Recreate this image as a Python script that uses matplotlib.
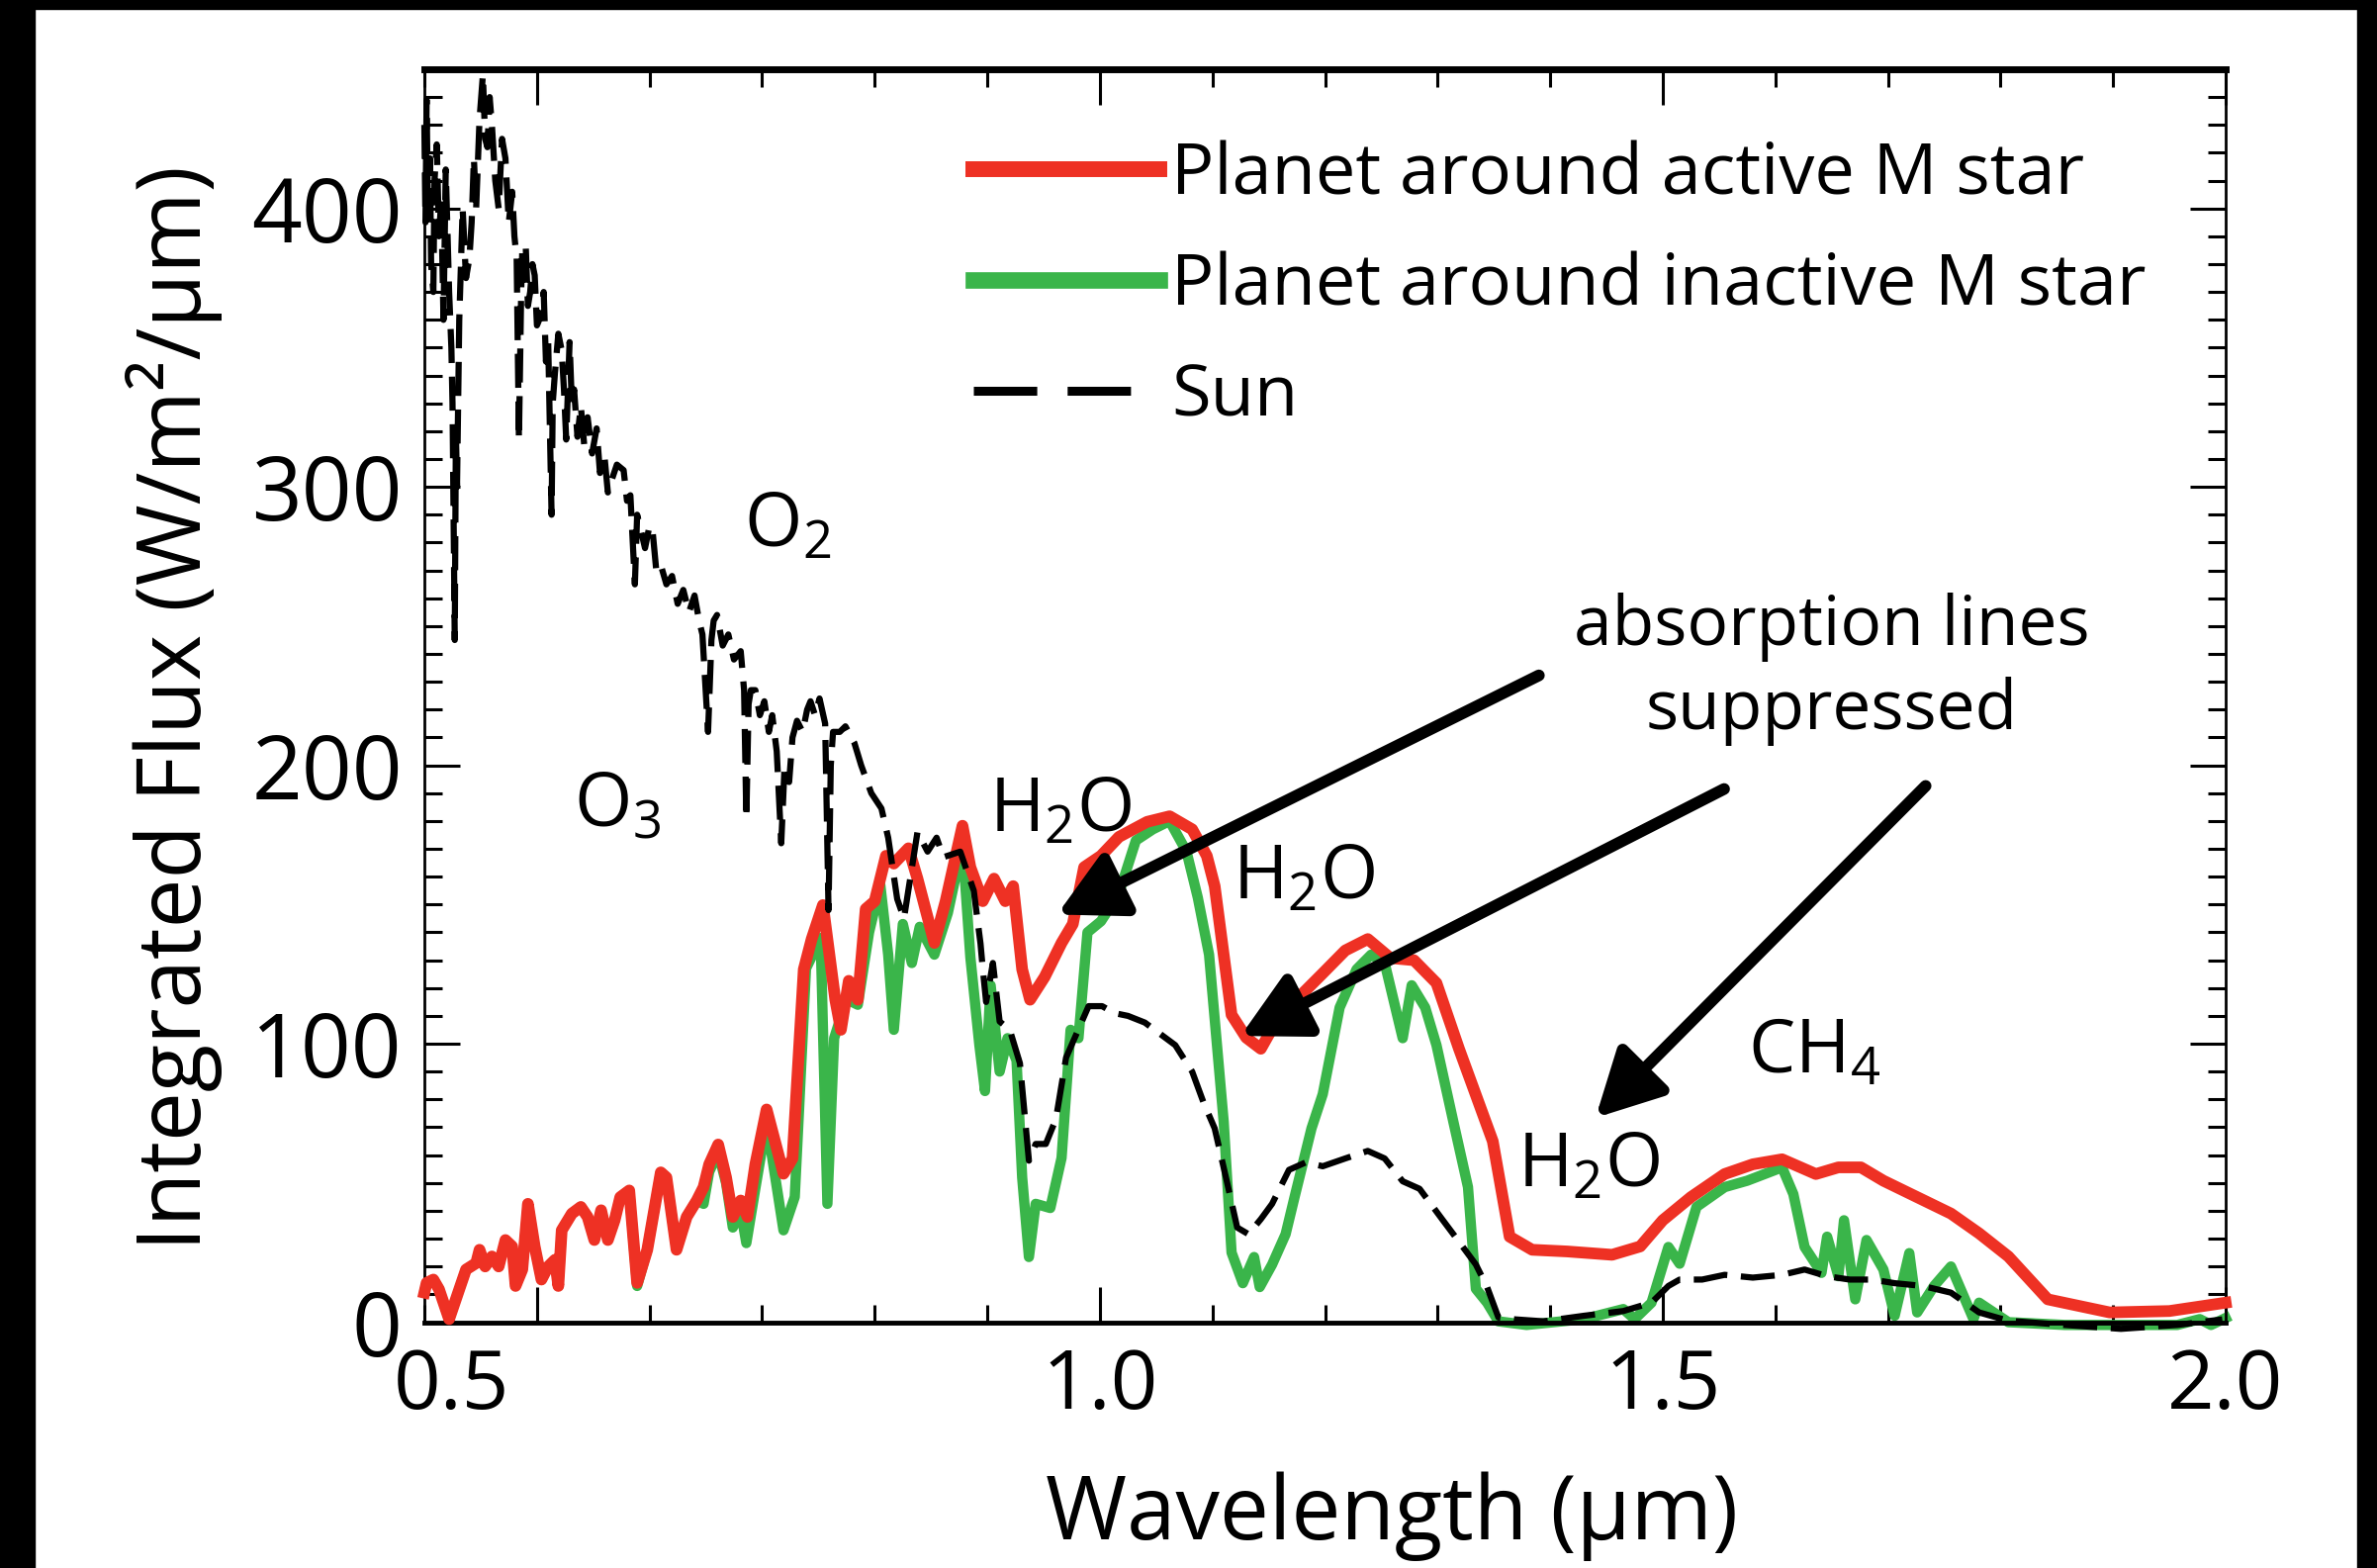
import matplotlib
matplotlib.use("Agg")
import matplotlib.pyplot as plt
from matplotlib.lines import Line2D
from matplotlib.patches import Rectangle
from matplotlib.ticker import MultipleLocator, FixedLocator, FormatStrFormatter
from matplotlib.transforms import ScaledTranslation

plt.rcParams['font.family'] = ['Open Sans', 'DejaVu Sans']
plt.rcParams['mathtext.fontset'] = 'custom'
plt.rcParams['mathtext.rm'] = 'Open Sans'
plt.rcParams['mathtext.it'] = 'Open Sans:italic'
plt.rcParams['mathtext.bf'] = 'Open Sans:bold'

# ---------------------------------------------------------------
# data (wavelength in um, flux in W/m2/um)
# ---------------------------------------------------------------
wl_active = [0.400, 0.402, 0.408, 0.413, 0.422, 0.431, 0.437, 0.446, 0.449, 0.454,
             0.460, 0.466, 0.472, 0.478, 0.481, 0.487, 0.492, 0.498, 0.504, 0.510,
             0.516, 0.519, 0.522, 0.531, 0.539, 0.545, 0.551, 0.557, 0.563, 0.569,
             0.574, 0.582, 0.589, 0.598, 0.610, 0.615, 0.624, 0.633, 0.642, 0.648,
             0.653, 0.661, 0.668, 0.674, 0.681, 0.687, 0.694, 0.704, 0.719, 0.727,
             0.737, 0.744, 0.754, 0.765, 0.770, 0.777, 0.785, 0.792, 0.800, 0.810,
             0.817, 0.830, 0.838, 0.853, 0.863, 0.878, 0.885, 0.896, 0.906, 0.916,
             0.923, 0.931, 0.938, 0.951, 0.966, 0.976, 0.986, 1.001, 1.017, 1.042,
             1.062, 1.082, 1.095, 1.102, 1.117, 1.130, 1.143, 1.158, 1.178, 1.198,
             1.218, 1.238, 1.258, 1.279, 1.299, 1.319, 1.334, 1.349, 1.364, 1.384,
             1.415, 1.455, 1.480, 1.500, 1.525, 1.555, 1.580, 1.606, 1.636, 1.656,
             1.676, 1.696, 1.726, 1.756, 1.781, 1.807, 1.842, 1.897, 1.950, 2.000]
flux_active = [10.6, 14.1, 15.3, 11.8, 1.1, 11.8, 18.9, 21.2, 26.0, 20.0,
               23.6, 20.0, 29.5, 27.2, 13.0, 18.9, 42.5, 27.2, 15.3, 20.0,
               22.4, 13.0, 33.0, 39.0, 41.4, 37.8, 29.5, 40.2, 29.5, 36.6,
               44.9, 47.3, 14.1, 26.0, 53.8, 52.0, 26.0, 37.8, 43.7, 48.5,
               56.7, 63.8, 52.0, 37.8, 43.7, 37.8, 56.7, 76.4, 53.3, 58.8,
               126.7, 137.6, 149.8, 115.8, 105.0, 122.6, 115.8, 148.4, 151.2, 167.5,
               164.7, 170.2, 159.3, 136.2, 151.2, 178.3, 163.4, 151.2, 159.3, 151.2,
               156.6, 126.7, 115.8, 124.0, 136.2, 143.0, 163.4, 167.5, 174.3, 179.7,
               181.7, 177.0, 167.5, 156.6, 110.4, 102.2, 98.2, 109.0, 117.2, 125.3,
               133.5, 137.6, 130.8, 130.0, 121.8, 98.2, 81.6, 65.0, 30.7, 26.0,
               25.4, 24.2, 27.2, 36.6, 44.9, 53.2, 56.7, 58.5, 53.2, 55.6,
               55.6, 50.8, 44.9, 39.0, 31.9, 23.6, 8.2, 3.5, 4.0, 7.0]

wl_inactive = [0.400, 0.402, 0.408, 0.413, 0.422, 0.431, 0.437, 0.446, 0.449, 0.454,
               0.460, 0.466, 0.472, 0.478, 0.481, 0.487, 0.492, 0.498, 0.504, 0.510,
               0.516, 0.519, 0.522, 0.531, 0.539, 0.545, 0.551, 0.557, 0.563, 0.569,
               0.574, 0.582, 0.589, 0.598, 0.610, 0.615, 0.624, 0.633, 0.642, 0.648,
               0.653, 0.661, 0.668, 0.674, 0.681, 0.686, 0.694, 0.704, 0.719, 0.729,
               0.739, 0.752, 0.758, 0.764, 0.775, 0.785, 0.795, 0.805, 0.812, 0.817,
               0.825, 0.833, 0.840, 0.853, 0.865, 0.878, 0.885, 0.893, 0.898, 0.903,
               0.911, 0.918, 0.926, 0.931, 0.937, 0.943, 0.956, 0.966, 0.974, 0.981,
               0.989, 1.001, 1.017, 1.032, 1.047, 1.062, 1.077, 1.087, 1.097, 1.110,
               1.117, 1.127, 1.137, 1.142, 1.153, 1.165, 1.173, 1.188, 1.198, 1.213,
               1.228, 1.241, 1.253, 1.269, 1.277, 1.289, 1.299, 1.314, 1.327, 1.334,
               1.344, 1.354, 1.379, 1.430, 1.465, 1.475, 1.490, 1.505, 1.515, 1.530,
               1.555, 1.575, 1.606, 1.616, 1.626, 1.641, 1.646, 1.656, 1.661, 1.671,
               1.681, 1.696, 1.706, 1.719, 1.726, 1.741, 1.756, 1.776, 1.781, 1.807,
               1.857, 1.957, 1.977, 1.987, 2.000]
flux_inactive = [10.6, 14.1, 15.3, 11.8, 1.1, 11.8, 18.9, 21.2, 26.0, 20.0,
                 23.6, 20.0, 29.5, 27.2, 13.0, 18.9, 42.5, 27.2, 15.3, 20.0,
                 22.4, 13.0, 33.0, 39.0, 41.4, 37.8, 29.5, 40.2, 29.5, 36.6,
                 44.9, 47.3, 13.0, 26.0, 53.8, 52.0, 26.0, 37.8, 43.7, 42.5,
                 54.0, 61.0, 50.0, 34.0, 40.0, 28.4, 48.0, 72.0, 33.0, 45.0,
                 127.0, 138.0, 42.5, 102.0, 116.0, 114.0, 140.0, 157.0, 132.0, 105.0,
                 143.0, 129.0, 142.0, 132.0, 147.0, 171.5, 131.0, 99.5, 83.0, 121.0,
                 90.0, 102.0, 94.0, 52.0, 23.4, 42.5, 41.0, 59.0, 105.0, 102.0,
                 140.0, 144.0, 154.0, 173.0, 177.0, 180.0, 169.0, 152.5, 132.0, 72.0,
                 25.0, 14.0, 23.4, 12.6, 20.7, 31.6, 45.0, 69.6, 81.9, 113.0,
                 126.7, 132.0, 129.0, 102.0, 121.0, 113.0, 99.5, 72.0, 48.5, 12.0,
                 7.0, 0.3, -1.0, 1.1, 4.7, 1.1, 7.0, 27.0, 21.0, 41.4,
                 48.5, 50.8, 55.6, 46.0, 27.0, 17.7, 30.7, 16.5, 36.6, 8.2,
                 29.5, 18.9, 2.3, 24.8, 3.5, 13.0, 20.0, 1.1, 7.0, 0.0,
                 -1.0, -1.0, 1.1, -1.0, 1.5]

wl_sun = [0.400, 0.401, 0.402, 0.403, 0.405, 0.406, 0.408, 0.409, 0.411, 0.413,
          0.415, 0.417, 0.419, 0.421, 0.422, 0.424, 0.425, 0.427, 0.428, 0.429,
          0.431, 0.434, 0.437, 0.440, 0.442, 0.444, 0.446, 0.449, 0.452, 0.454,
          0.456, 0.458, 0.460, 0.463, 0.466, 0.469, 0.472, 0.475, 0.478, 0.480,
          0.482, 0.484, 0.486, 0.487, 0.490, 0.492, 0.494, 0.496, 0.498, 0.500,
          0.503, 0.506, 0.508, 0.510, 0.513, 0.514, 0.516, 0.519, 0.522, 0.524,
          0.526, 0.529, 0.531, 0.533, 0.536, 0.539, 0.542, 0.545, 0.549, 0.553,
          0.556, 0.560, 0.563, 0.566, 0.571, 0.577, 0.580, 0.583, 0.587, 0.589,
          0.592, 0.596, 0.600, 0.603, 0.606, 0.610, 0.615, 0.620, 0.625, 0.630,
          0.635, 0.640, 0.644, 0.647, 0.652, 0.655, 0.657, 0.660, 0.665, 0.670,
          0.675, 0.681, 0.684, 0.686, 0.688, 0.690, 0.694, 0.698, 0.702, 0.706,
          0.709, 0.713, 0.717, 0.720, 0.724, 0.727, 0.731, 0.736, 0.740, 0.743,
          0.747, 0.751, 0.756, 0.759, 0.761, 0.763, 0.769, 0.774, 0.782, 0.788,
          0.797, 0.806, 0.812, 0.820, 0.826, 0.838, 0.847, 0.855, 0.861, 0.876,
          0.888, 0.894, 0.896, 0.899, 0.905, 0.911, 0.920, 0.929, 0.937, 0.943,
          0.952, 0.961, 0.970, 0.990, 1.002, 1.013, 1.025, 1.040, 1.067, 1.082,
          1.092, 1.102, 1.112, 1.122, 1.132, 1.143, 1.153, 1.168, 1.183, 1.198,
          1.218, 1.238, 1.253, 1.269, 1.284, 1.304, 1.319, 1.334, 1.344, 1.354,
          1.369, 1.394, 1.430, 1.465, 1.490, 1.505, 1.515, 1.535, 1.555, 1.580,
          1.606, 1.626, 1.646, 1.666, 1.686, 1.706, 1.731, 1.756, 1.781, 1.807,
          1.857, 1.907, 1.957, 1.997]
flux_sun = [430, 395, 439, 405, 418, 380, 370, 410, 423, 390,
            403, 360, 414, 385, 370, 350, 330, 245, 320, 300,
            360, 400, 375, 382, 395, 418, 400, 432, 448, 425,
            422, 440, 430, 410, 400, 425, 418, 395, 406, 390,
            382, 317, 370, 385, 387, 365, 370, 380, 376, 358,
            361, 370, 345, 352, 290, 330, 341, 355, 349, 335,
            317, 352, 330, 335, 318, 329, 315, 325, 312, 321,
            305, 311, 298, 302, 308, 306, 295, 297, 265, 290,
            285, 278, 286, 283, 270, 272, 265, 268, 258, 263,
            255, 261, 252, 247, 212, 245, 252, 254, 243, 247,
            238, 241, 227, 181, 222, 227, 227, 218, 223, 212,
            218, 205, 172, 200, 194, 210, 216, 212, 220, 223,
            218, 224, 215, 148, 200, 212, 212, 214, 208, 200,
            190, 184.5, 174, 152, 145, 176, 169, 174, 167, 169,
            155, 136, 127, 115, 129, 108, 105, 93, 58, 64,
            64, 73, 95, 113.5, 113.5, 111, 110, 107.6, 99.5, 90,
            79, 69.6, 52, 34, 31.6, 37, 42.5, 54.7, 57.4, 56,
            58.8, 61.5, 58.8, 50.6, 47.9, 37, 28.9, 20.7, 12.6, 1.7,
            1.0, 0.3, 2.3, 4.0, 7.0, 13.0, 15.3, 15.3, 17.0, 16.0,
            17.0, 18.9, 16.5, 15.3, 15.3, 14.0, 13.0, 10.6, 3.5, 0.5,
            -1.0, -2.4, -1.0, 1.0]

series_labels = ['Planet around active M star', 'Planet around inactive M star', 'Sun']
x_ticks = [0.5, 1.0, 1.5, 2.0]

RED = '#EE3124'
GREEN = '#3AB54A'

# ---------------------------------------------------------------
# figure
# ---------------------------------------------------------------
W, H = 2403, 1585
fig = plt.figure(figsize=(W / 100, H / 100), dpi=100)
ax = fig.add_axes([429 / W, 1 - 1336.5 / H, 1821 / W, 1266.5 / H])

ax.plot(wl_inactive, flux_inactive, color=GREEN, lw=7.5, solid_joinstyle='round',
        clip_on=False, zorder=2)
ax.plot(wl_active, flux_active, color=RED, lw=8.5, solid_joinstyle='round',
        clip_on=False, zorder=3)
ax.plot(wl_sun, flux_sun, color='black', lw=4.5, ls=(0, (5.5, 2.2)),
        clip_on=False, zorder=4)

ax.set_xlim(0.4, 2.0)
ax.set_ylim(0, 450)

# ticks
ax.xaxis.set_major_locator(FixedLocator(x_ticks))
ax.xaxis.set_minor_locator(MultipleLocator(0.1))
ax.xaxis.set_major_formatter(FormatStrFormatter('%.1f'))
ax.yaxis.set_major_locator(MultipleLocator(100))
ax.yaxis.set_minor_locator(MultipleLocator(10))
ax.tick_params(which='both', direction='in', top=True, right=True)
ax.tick_params(which='major', length=26, width=2.2)
ax.tick_params(which='minor', length=13, width=2.2)
ax.tick_params(axis='x', labelsize=60, pad=18)
ax.tick_params(axis='y', labelsize=64, pad=16)

ax.spines['top'].set_linewidth(5)
ax.spines['bottom'].set_linewidth(3.5)
ax.spines['left'].set_linewidth(2)
ax.spines['right'].set_linewidth(2)

# the "0.5" label sits left of its tick in the original
lab = ax.xaxis.get_major_ticks()[0].label1
lab.set_transform(lab.get_transform() + ScaledTranslation(-0.86, 0, fig.dpi_scale_trans))

ax.set_xlabel('Wavelength (µm)', fontsize=64)
ax.xaxis.set_label_coords(0.537, -0.155)
ax.xaxis.label.set_va('center')
ax.set_ylabel('Integrated Flux (W/m²/µm)', fontsize=64)
ax.yaxis.set_label_coords(-0.139, 0.490)
ax.yaxis.label.set_va('center')

# molecule labels
ax.text(0.684, 278.6, r'O$_2$', fontsize=54, va='baseline')
ax.text(0.533, 177.9, r'O$_3$', fontsize=54, va='baseline')
ax.text(0.902, 176.3, r'H$_2$O', fontsize=54, va='baseline')
ax.text(1.118, 152.3, r'H$_2$O', fontsize=54, va='baseline')
ax.text(1.371, 49.0, r'H$_2$O', fontsize=54, va='baseline')
ax.text(1.576, 89.8, r'CH$_4$', fontsize=54, va='baseline')
ax.text(1.650, 234.5, 'absorption lines\nsuppressed', fontsize=50,
        ha='center', va='center', multialignment='center', linespacing=1.3)

# arrows
arrow_tails = [(1.390, 232.3), (1.5545, 191.5), (1.7335, 192.6)]
arrow_heads = [(0.962, 146.4), (1.125, 102.8), (1.4403, 73.4)]
for tail, head in zip(arrow_tails, arrow_heads):
    ax.annotate('', xy=head, xytext=tail,
                arrowprops=dict(arrowstyle='-|>,head_length=0.40,head_width=0.21',
                                mutation_scale=100, lw=8.5, color='black',
                                shrinkA=0, shrinkB=0))

# legend
handles = [Line2D([], [], color=RED, lw=11.5),
           Line2D([], [], color=GREEN, lw=12),
           Line2D([], [], color='black', lw=6.5, ls=(0, (7.1, 3.4)))]
ax.legend(handles, series_labels, loc='upper left', bbox_to_anchor=(0.305, 0.943),
          frameon=False, fontsize=52, handlelength=2.6, handletextpad=0.17,
          labelspacing=0.56, borderpad=0, borderaxespad=0)

# black frame bands along the image edges
fig.add_artist(Rectangle((0, 1 - 9 / H), 1, 9 / H, transform=fig.transFigure,
                         color='black', zorder=10))
fig.add_artist(Rectangle((0, 0), 35 / W, 1, transform=fig.transFigure,
                         color='black', zorder=10))
fig.add_artist(Rectangle((1 - 20 / W, 0), 20 / W, 1, transform=fig.transFigure,
                         color='black', zorder=10))

fig.savefig('out.png', dpi=100)
